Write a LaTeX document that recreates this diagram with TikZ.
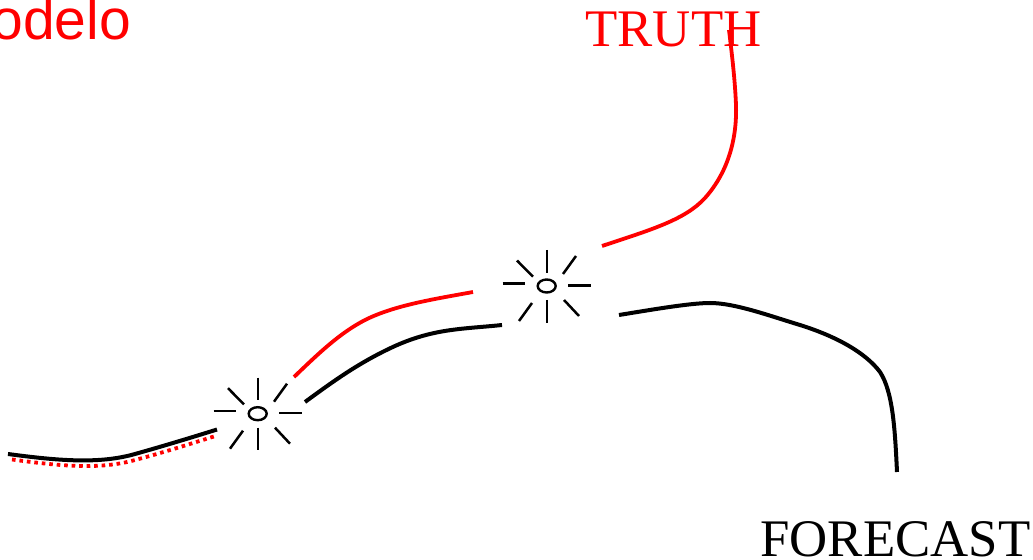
\documentclass[tikz,border=0pt]{standalone}
\usepackage{fontspec}
\usepackage{xcolor}
\usepackage{tikz}
\usetikzlibrary{shapes.geometric}
\setmainfont{Liberation Serif}
\newfontfamily\labelsans{Liberation Sans}
\definecolor{truthred}{RGB}{255,0,0}
\tikzset{
  hub/.style={ellipse, draw=black, line width=1.2pt, fill=white, inner sep=0pt,
              minimum width=9pt, minimum height=6.5pt},
  spoke/.style={draw=black, line width=1.25pt},
  blackline/.style={draw=black, line width=2pt},
  redline/.style={draw=truthred, line width=1.9pt},
  reddots/.style={draw=truthred, line width=1.9pt, dash pattern=on 1.8pt off 1.95pt},
  caption/.style={inner sep=0pt, anchor=base west, font=\fontsize{26.4}{30}\selectfont},
}

\begin{document}
\begin{tikzpicture}[x=0.5pt, y=-0.5pt]
    \useasboundingbox (0,0) rectangle (1033,560);
    \node[caption, text=truthred] (truth) at (585,46.5) {TRUTH};
    \node[caption] (forecast) at (760,557) {FORECAST};
    \node[caption, text=truthred, font=\labelsans\fontsize{28.5}{30}\selectfont] (modelo) at (-9,39.5) {odelo};
    \node[hub] (hubA) at (257.7,413.7) {};
    \node[hub] (hubB) at (546.7,286) {};
    \foreach \hubname in {hubA,hubB}
      \foreach \xa/\ya/\xb/\yb in {0.5/-36/0.5/-13.3, -44/-2.7/-21.7/-2.7, 21.3/-0.7/44/-0.7, 0.5/14/0.5/36.7,
                                   -29.7/-25.5/-13.7/-9.3, 29.3/-30/16.3/-12, -27.7/35/-14.7/17, 17.3/14/32.3/30}
        \draw[spoke] ([shift={(\xa,\ya)}]\hubname.center) -- ([shift={(\xb,\yb)}]\hubname.center);
    \coordinate (blackAstart) at (8,454);
    \coordinate (blackAend) at (217,429.5);
    \coordinate (dotsAstart) at (12,459.5);
    \coordinate (dotsAend) at (217,435.5);
    \coordinate (redAstart) at (294,377);
    \coordinate (redAend) at (473,292);
    \coordinate (blackBstart) at (305,402);
    \coordinate (blackBend) at (502,325);
    \coordinate (redBstart) at (602,246);
    \coordinate (redBend) at (729,30);
    \coordinate (blackCstart) at (619,315);
    \coordinate (blackCend) at (897,472);
    \draw[blackline] (blackAstart) .. controls (60,461) and (100,464) .. (135,454) .. controls (160,447) and (190,438) .. (blackAend);
    \draw[reddots] (dotsAstart) .. controls (60,466) and (100,470) .. (135,460) .. controls (160,453.5) and (190,444) .. (dotsAend);
    \draw[redline] (redAstart) .. controls (320,352) and (340,333) .. (365,320) .. controls (395,305) and (435,299) .. (redAend);
    \draw[blackline] (blackBstart) .. controls (335,380) and (360,362) .. (395,346) .. controls (435,328) and (465,329) .. (blackBend);
    \draw[redline] (redBstart) .. controls (650,230) and (685,220) .. (705,198) .. controls (730,170) and (737,135) .. (736,105) .. controls (735,80) and (732,55) .. (redBend);
    \draw[blackline] (blackCstart) .. controls (650,310) and (690,303) .. (710,303) .. controls (735,303) and (770,316) .. (800,325) .. controls (835,336) and (865,352) .. (880,372) .. controls (893,392) and (895,430) .. (blackCend);
  \end{tikzpicture}
\end{document}
